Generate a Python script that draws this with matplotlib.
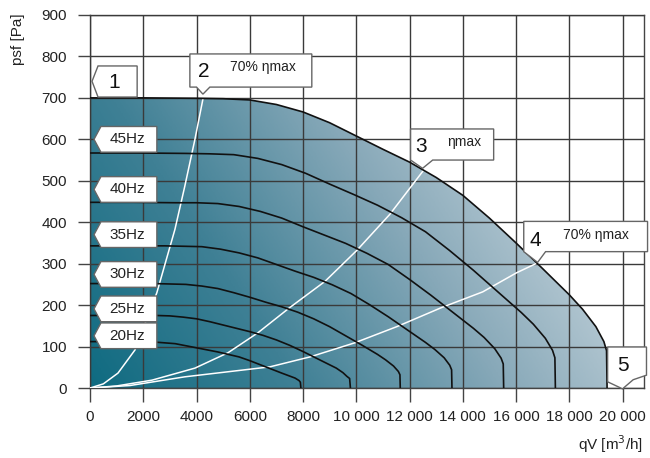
import numpy as np
import matplotlib
matplotlib.use("Agg")
import matplotlib.pyplot as plt
from matplotlib.patches import Polygon
from matplotlib.colors import LinearSegmentedColormap

plt.rcParams['font.family'] = ['Liberation Sans', 'DejaVu Sans']

# envelope curve 1 -> 5 (50 Hz)
env_q = [0, 2000, 4000, 5000, 6000, 7000, 8000, 9000, 10000, 11000, 12000, 13000,
         14000, 15000, 16000, 17000, 18000, 18500, 19000, 19300, 19400, 19420]
env_p = [700, 700, 699, 698, 695, 684, 666, 640, 608, 576, 545, 508,
         465, 410, 350, 288, 225, 190, 148, 112, 90, 0]

# frequency curves
hz_names = ["45Hz", "40Hz", "35Hz", "30Hz", "25Hz", "20Hz"]
q45 = [0, 1800, 3600, 4500, 5400, 6300, 7200, 8100, 9000, 9900, 10800, 11700, 12600,
       13500, 14400, 15300, 16200, 16650, 17100, 17370, 17460, 17478]
p45 = [567, 567, 566, 565, 563, 554, 539, 518, 492, 467, 441, 411, 377,
       332, 284, 233, 182, 154, 120, 91, 73, 0]
q40 = [0, 1600, 3200, 4000, 4800, 5600, 6400, 7200, 8000, 8800, 9600, 10400, 11200,
       12000, 12800, 13600, 14400, 14800, 15200, 15440, 15520, 15536]
p40 = [448, 448, 447, 447, 445, 438, 426, 410, 389, 369, 349, 325, 298,
       262, 224, 184, 144, 122, 95, 72, 58, 0]
q35 = [0, 1400, 2800, 3500, 4200, 4900, 5600, 6300, 7000, 7700, 8400, 9100, 9800,
       10500, 11200, 11900, 12600, 12950, 13300, 13510, 13580, 13594]
p35 = [343, 343, 343, 342, 341, 335, 326, 314, 298, 282, 267, 249, 228,
       201, 172, 141, 110, 93, 73, 55, 44, 0]
q30 = [0, 1200, 2400, 3000, 3600, 4200, 4800, 5400, 6000, 6600, 7200, 7800, 8400,
       9000, 9600, 10200, 10800, 11100, 11400, 11580, 11640, 11652]
p30 = [252, 252, 252, 251, 250, 246, 240, 230, 219, 207, 196, 183, 167,
       148, 126, 104, 81, 68, 53, 40, 32, 0]
q25 = [0, 1000, 2000, 2500, 3000, 3500, 4000, 4500, 5000, 5500, 6000, 6500, 7000,
       7500, 8000, 8500, 9000, 9250, 9500, 9650, 9750, 9780]
p25 = [175, 175, 175, 175, 174, 171, 167, 160, 152, 144, 136, 127, 116,
       103, 88, 72, 56, 48, 37, 28, 23, 0]
q20 = [0, 800, 1600, 2000, 2400, 2800, 3200, 3600, 4000, 4400, 4800, 5200, 5600,
       6000, 6400, 6800, 7200, 7450, 7700, 7850, 7900, 7920]
p20 = [112, 112, 112, 112, 111, 109, 107, 102, 97, 92, 87, 81, 75,
       66, 56, 46, 36, 30, 24, 18, 14, 0]
hz_label_y = [600, 479, 370, 274, 191, 126]

# efficiency lines (white)
eff2_q = [0, 500, 1050, 1690, 2510, 3190, 3560, 3940, 4240]
eff2_p = [0, 10, 36, 92, 230, 383, 487, 600, 697]
eff3_q = [0, 1000, 2330, 3940, 5180, 6300, 7500, 8820, 10020, 11260, 12500]
eff3_p = [0, 5, 19, 48, 85, 133, 194, 257, 332, 419, 523]
eff4_q = [0, 1500, 3560, 6750, 8260, 9940, 11520, 13200, 14750, 16020, 16810]
eff4_p = [0, 6, 27, 51, 75, 109, 148, 194, 232, 278, 302]

xticks = list(range(0, 20001, 2000))
xtick_labels = ["0", "2000", "4000", "6000", "8000", "10 000", "12 000",
                "14 000", "16 000", "18 000", "20 000"]
yticks = list(range(0, 901, 100))

fig = plt.figure(figsize=(6.5, 4.58), dpi=100)
ax = fig.add_axes([0.1385, 0.1528, 0.852, 0.8145])
xmax, ymax = 20800, 900
ax.set_xlim(0, xmax)
ax.set_ylim(0, ymax)

# gradient fill under envelope
cmap = LinearSegmentedColormap.from_list(
    "fan", ["#0f6b81", "#3f8095", "#88a9b9", "#c6d4dc"])
xs = np.linspace(0, xmax, 400)
ys = np.linspace(0, ymax, 300)
X, Y = np.meshgrid(xs, ys)
T = np.clip(X / 20000 * 0.85 + Y / 700 * 0.3, 0, 1)
im = ax.imshow(T, extent=[0, xmax, 0, ymax], origin="lower", cmap=cmap,
               aspect="auto", zorder=1, vmin=0, vmax=1)
env_poly = Polygon(list(zip(env_q + [0], env_p + [0])), closed=True,
                   transform=ax.transData)
im.set_clip_path(env_poly)

# grid
ax.set_xticks(xticks)
ax.set_xticklabels(xtick_labels)
ax.set_yticks(yticks)
ax.set_axisbelow(False)
ax.grid(True, color="#3a3a3a", lw=1.0, zorder=2)
for s in ax.spines.values():
    s.set_color("#444444")
    s.set_linewidth(1.0)
ax.tick_params(axis="x", direction="out", length=10, width=1, color="#444444",
               labelsize=11, pad=6, labelcolor="#222222")
ax.tick_params(axis="y", direction="out", length=8.5, width=1, color="#444444",
               labelsize=11, pad=8, labelcolor="#222222")

# white efficiency lines
for q, p in [(eff2_q, eff2_p), (eff3_q, eff3_p), (eff4_q, eff4_p)]:
    ax.plot(q, p, color="white", lw=1.1, zorder=3)

# frequency curves
for q, p in [(q45, p45), (q40, p40), (q35, p35), (q30, p30), (q25, p25), (q20, p20)]:
    ax.plot(q, p, color="#111111", lw=1.2, zorder=4)

ax.plot(env_q, env_p, color="#111111", lw=1.2, zorder=4)

box_kw = dict(closed=True, facecolor="white", edgecolor="#666666", lw=1.0,
              zorder=6, clip_on=False)

# Hz labels
for name, c in zip(hz_names, hz_label_y):
    h = 31
    ax.add_patch(Polygon([(150, c), (410, c + h), (2510, c + h), (2510, c - h),
                          (410, c - h)], **box_kw))
    ax.text(1400, c, name, ha="center", va="center", fontsize=11,
            color="#222222", zorder=7)

# callout 1
ax.add_patch(Polygon([(75, 740), (300, 777), (1770, 777), (1770, 702), (300, 702)],
                     **box_kw))
ax.text(900, 738, "1", ha="center", va="center", fontsize=15, color="#111111",
        zorder=7)

# callout 2
ax.add_patch(Polygon([(3750, 806), (8330, 806), (8330, 726), (4500, 726), (4240, 709),
                      (4000, 726), (3750, 726)], **box_kw))
ax.text(4280, 764, "2", ha="center", va="center", fontsize=15, color="#111111",
        zorder=7)
ax.text(6500, 774, "70% ηmax", ha="center", va="center", fontsize=10,
        color="#222222", zorder=7)

# callout 3
ax.add_patch(Polygon([(12040, 625), (15160, 625), (15160, 550), (12870, 550),
                      (12490, 530), (12040, 550)], **box_kw))
ax.text(12420, 583, "3", ha="center", va="center", fontsize=15, color="#111111",
        zorder=7)
ax.text(14050, 594, "ηmax", ha="center", va="center", fontsize=10,
        color="#222222", zorder=7)

# callout 4
ax.add_patch(Polygon([(16290, 402), (20940, 402), (20940, 329), (17110, 329),
                      (16810, 303), (16290, 329)], **box_kw))
ax.text(16730, 357, "4", ha="center", va="center", fontsize=15, color="#111111",
        zorder=7)
ax.text(19000, 368, "70% ηmax", ha="center", va="center", fontsize=10,
        color="#222222", zorder=7)

# callout 5
ax.add_patch(Polygon([(19440, 99), (20900, 99), (20900, 31), (20400, 20),
                      (20000, -2), (19440, 15)], **box_kw))
ax.text(20000, 55, "5", ha="center", va="center", fontsize=15, color="#111111",
        zorder=7)

fig.text(0.028, 0.915, "psf [Pa]", rotation=90, ha="center", va="center",
         fontsize=11, color="#222222")
fig.text(0.94, 0.03, "qV [m$^3$/h]", ha="center", va="center",
         fontsize=11, color="#222222")

fig.savefig("out.png", dpi=100)
